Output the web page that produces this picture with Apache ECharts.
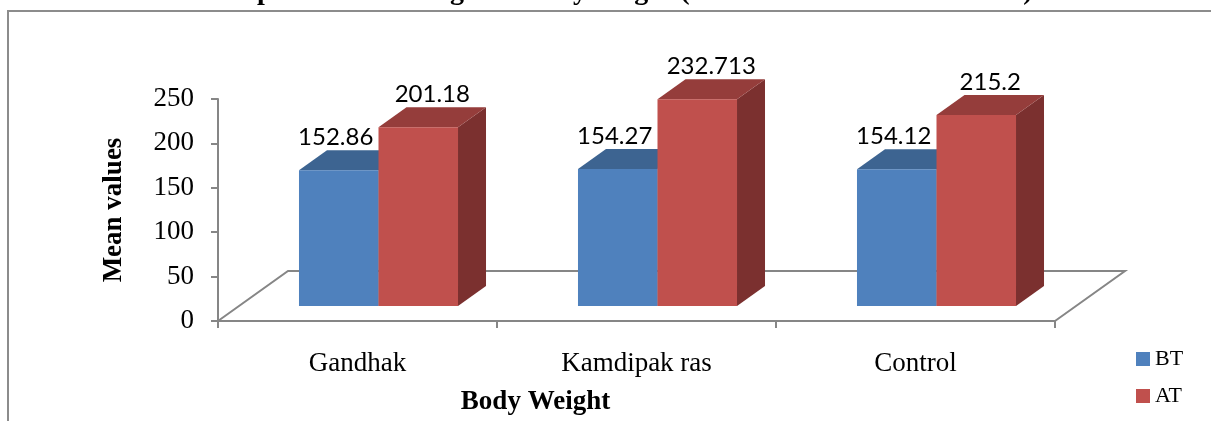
<!DOCTYPE html>
<html>
<head>
<meta charset="utf-8">
<script src="https://cdn.jsdelivr.net/npm/echarts@6/dist/echarts.min.js"></script>
<style>
  html, body { margin: 0; padding: 0; background: #fff; }
  #chart { width: 1211px; height: 421px; }
</style>
</head>
<body>
<div id="chart"></div>
<script>
// data
const categories = ['Gandhak', 'Kamdipak ras', 'Control']
const btValues = [152.86, 154.27, 154.12]
const atValues = [201.18, 232.713, 215.2]
const seriesNames = ['BT', 'AT']
const yTicks = [0, 50, 100, 150, 200, 250]

// 3d look: floor depth in px, bars sit between 0.3 and 0.7 of the depth
const depthX = 70
const depthY = -50
const barFront = 0.3
const barBack = 0.7
const barRatio = 0.285

const colors = {
  BT: { front: '#4F81BD', top: '#3D6491', side: '#345680' },
  AT: { front: '#C0504D', top: '#953D3B', side: '#7B302F' }
}
// excel nudges the labels a bit sideways
const labelShift = { BT: -3, AT: 14 }

const axisGray = '#868686'
const serif = 'Liberation Serif'

function barRender(name, s) {
  return function(params, api) {
    const idx = api.value(0)
    const val = api.value(1)
    const base = api.coord([idx, 0])
    const top = api.coord([idx, val])
    const barW = api.size([1, 0])[0] * barRatio
    const x0 = base[0] - barW + s * barW
    const fx = depthX * barFront, fy = depthY * barFront
    const bx = depthX * barBack, by = depthY * barBack
    const c = colors[name]
    return {
      type: 'group',
      children: [
        {
          type: 'polygon',
          shape: { points: [[x0 + fx + barW, top[1] + fy], [x0 + bx + barW, top[1] + by], [x0 + bx + barW, base[1] + by], [x0 + fx + barW, base[1] + fy]] },
          style: { fill: c.side }
        },
        {
          type: 'polygon',
          shape: { points: [[x0 + fx, top[1] + fy], [x0 + fx + barW, top[1] + fy], [x0 + bx + barW, top[1] + by], [x0 + bx, top[1] + by]] },
          style: { fill: c.top }
        },
        {
          type: 'rect',
          shape: { x: x0 + fx, y: top[1] + fy, width: barW, height: base[1] - top[1] },
          style: { fill: c.front }
        },
        {
          type: 'text',
          x: x0 + fx + barW / 2 + labelShift[name],
          y: top[1] + by - 1,
          style: {
            text: String(val),
            fill: '#000',
            font: '24px Lato',
            align: 'center',
            verticalAlign: 'bottom'
          }
        }
      ]
    }
  }
}

// floor outline behind the bars
function floorRender(params) {
  const cs = params.coordSys
  const l = cs.x, r = cs.x + cs.width, b = cs.y + cs.height
  return {
    type: 'polyline',
    shape: { points: [[l, b], [l + depthX, b + depthY], [r + depthX, b + depthY], [r, b]] },
    style: { stroke: axisGray, lineWidth: 2, fill: null }
  }
}

const chart = echarts.init(document.getElementById('chart'))
chart.setOption({
  animation: false,
  graphic: [
    {
      type: 'rect',
      shape: { x: 8, y: 11, width: 1300, height: 500 },
      style: { fill: null, stroke: '#8c8c8c', lineWidth: 2 },
      silent: true
    },
    {
      type: 'text',
      x: 616,
      y: 6,
      style: {
        text: 'Comparison of Changes in Body weight (Before and After Treatment)',
        font: 'bold 28px "Liberation Serif"',
        fill: '#000',
        align: 'center',
        verticalAlign: 'bottom'
      }
    }
  ],
  grid: { left: 218, right: 156, top: 99, bottom: 91 },
  legend: {
    data: seriesNames,
    orient: 'vertical',
    left: 1131,
    top: 343,
    itemWidth: 14,
    itemHeight: 14,
    itemGap: 15,
    icon: 'rect',
    textStyle: { fontFamily: serif, fontSize: 22, color: '#000' }
  },
  xAxis: {
    type: 'category',
    data: categories,
    name: 'Body Weight',
    nameLocation: 'middle',
    nameGap: 68,
    nameTextStyle: { fontFamily: serif, fontSize: 27, fontWeight: 'bold', color: '#000', padding: [0, 202, 0, 0] },
    axisLine: { lineStyle: { color: axisGray, width: 2 } },
    axisTick: { show: true, length: 7, lineStyle: { color: axisGray, width: 2 } },
    axisLabel: { margin: 29, fontFamily: serif, fontSize: 27, color: '#000' }
  },
  yAxis: {
    type: 'value',
    min: 0,
    max: 250,
    interval: 50,
    name: 'Mean values',
    nameLocation: 'middle',
    nameGap: 90,
    nameTextStyle: { fontFamily: serif, fontSize: 27, fontWeight: 'bold', color: '#000' },
    axisLine: { show: true, lineStyle: { color: axisGray, width: 2 } },
    axisTick: { show: true, length: 7, lineStyle: { color: axisGray, width: 2 } },
    splitLine: { show: false },
    axisLabel: {
      margin: 24,
      fontFamily: serif,
      fontSize: 27,
      color: '#000',
      formatter: v => (yTicks.includes(v) ? String(v) : '')
    }
  },
  series: [
    {
      name: 'floor',
      type: 'custom',
      renderItem: floorRender,
      data: [[0, 0]],
      silent: true,
      z: 1
    },
    {
      name: 'BT',
      type: 'custom',
      itemStyle: { color: colors.BT.front },
      renderItem: barRender('BT', 0),
      data: btValues.map((v, i) => [i, v]),
      z: 2
    },
    {
      name: 'AT',
      type: 'custom',
      itemStyle: { color: colors.AT.front },
      renderItem: barRender('AT', 1),
      data: atValues.map((v, i) => [i, v]),
      z: 3
    }
  ]
})
</script>
</body>
</html>
